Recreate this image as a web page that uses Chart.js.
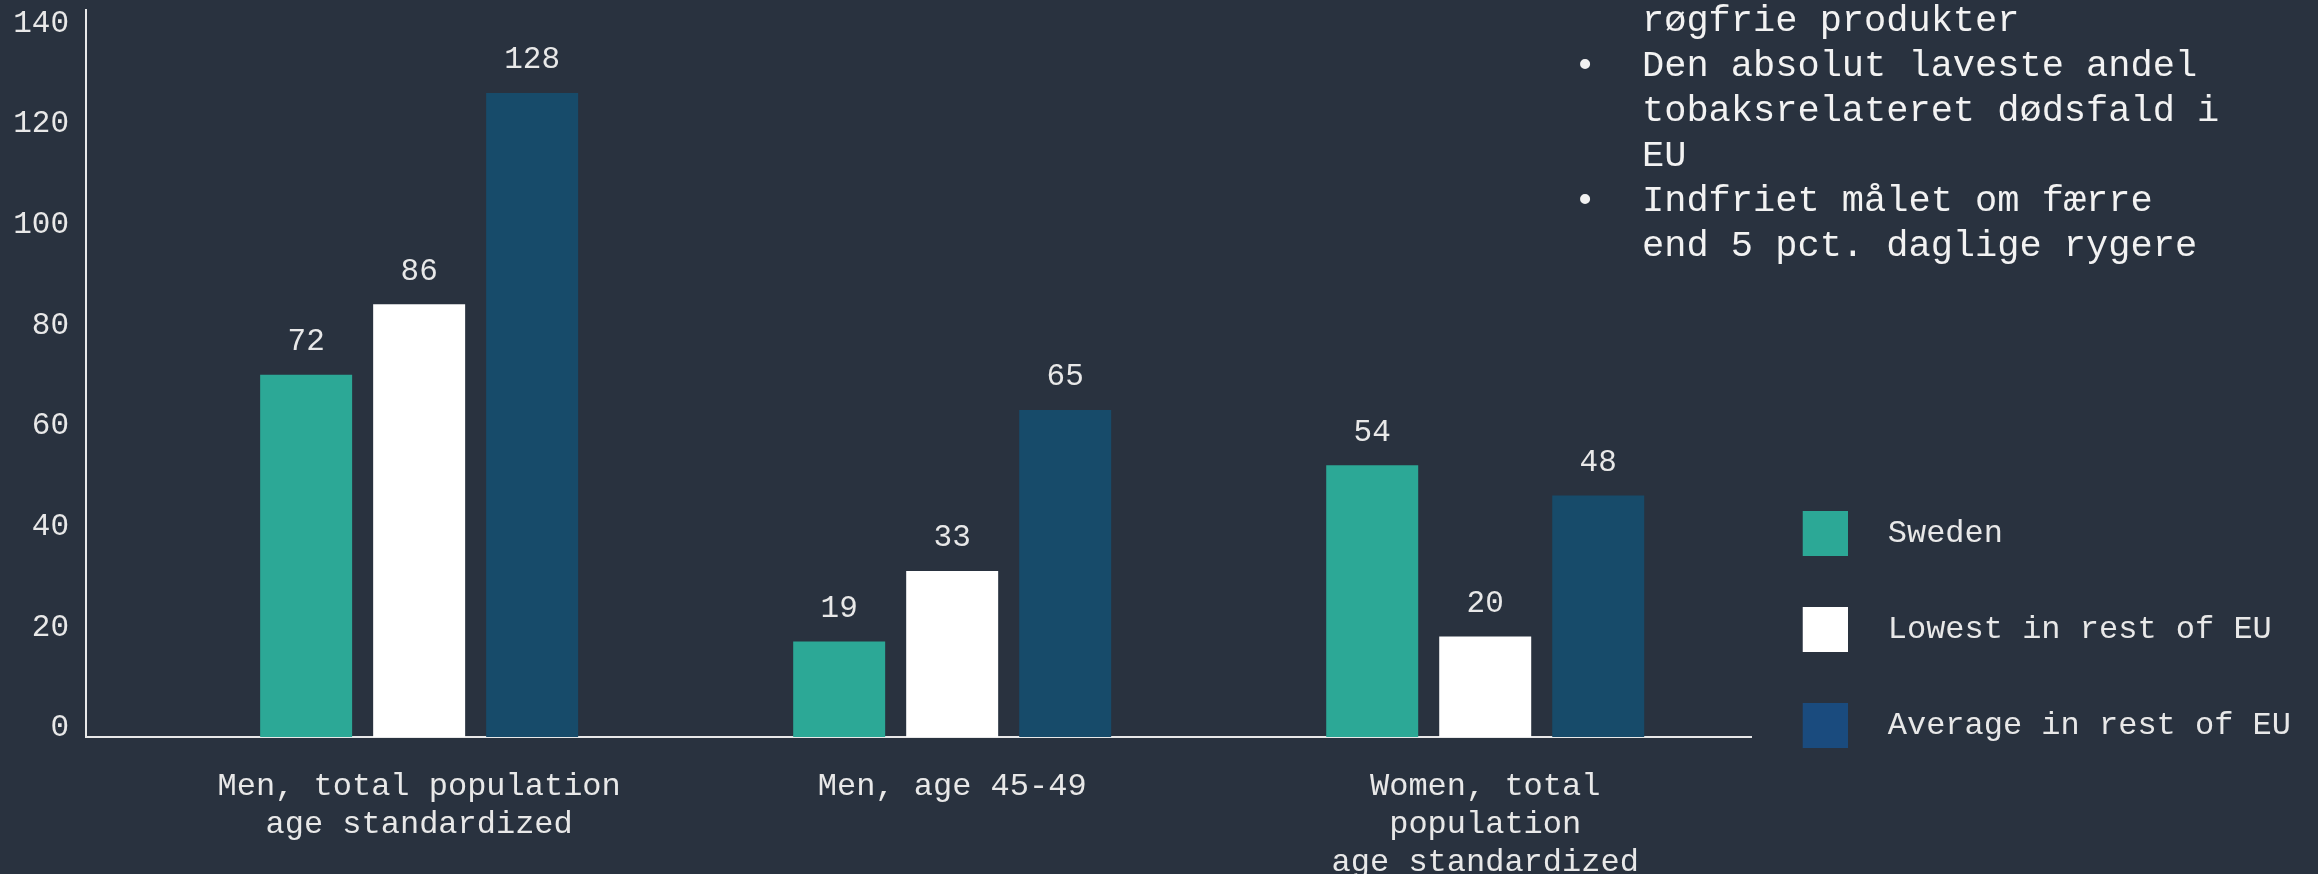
<!DOCTYPE html>
<html><head><meta charset="utf-8">
<script src="https://cdn.jsdelivr.net/npm/chart.js@4"></script>
<style>
html,body{margin:0;padding:0;background:#29323f;overflow:hidden;}
#wrap{position:relative;width:2318px;height:874px;}
#note{position:absolute;left:1574px;top:-1px;font-family:'Liberation Mono','DejaVu Sans Mono',monospace;font-size:37px;line-height:45px;color:#f2f2f2;white-space:pre;}
.li{display:flex;}
.b{width:68px;flex:none;}
</style></head><body>
<div id="wrap"><canvas id="c" width="2318" height="874"></canvas>
<div id="note"><div class="li"><span class="b"></span><span>røgfrie produkter</span></div><div class="li"><span class="b">•</span><span>Den absolut laveste andel
tobaksrelateret dødsfald i
EU</span></div><div class="li"><span class="b">•</span><span>Indfriet målet om færre
end 5 pct. daglige rygere</span></div></div>
</div>
<script>
const categories = [['Men, total population', 'age standardized'], ['Men, age 45-49'], ['Women, total', 'population', 'age standardized']];
const seriesNames = ['Sweden', 'Lowest in rest of EU', 'Average in rest of EU'];
const sweden = [72, 19, 54];
const lowestEU = [86, 33, 20];
const averageEU = [128, 65, 48];
const yTicks = [0, 20, 40, 60, 80, 100, 120, 140];

const fontFam = "'Liberation Mono', 'DejaVu Sans Mono', monospace";
const textColor = '#e8e8e8';
const axisColor = '#e8e8e8';
const barColors = ['#2ca896', '#ffffff', '#174b6a'];
const legendColors = ['#2ca896', '#ffffff', '#1a4b7e'];
const seriesValues = [sweden, lowestEU, averageEU];

const canvas = document.getElementById('c');
const ctx0 = canvas.getContext('2d');
// legend swatch: 45px square followed by a transparent gap inside a 69px legend box
const LEG_BOX_LEFT = 1803, LEG_SWATCH = 45, LEG_BOX = 69;
function swatch(color) {
  const g = ctx0.createLinearGradient(LEG_BOX_LEFT, 0, LEG_BOX_LEFT + LEG_BOX, 0);
  const f = LEG_SWATCH / LEG_BOX;
  g.addColorStop(0, color);
  g.addColorStop(f, color);
  g.addColorStop(f, 'rgba(0,0,0,0)');
  g.addColorStop(1, 'rgba(0,0,0,0)');
  return g;
}

const valueLabels = {
  id: 'valueLabels',
  afterDatasetsDraw(chart) {
    const ctx = chart.ctx;
    ctx.save();
    ctx.font = '31px ' + fontFam;
    ctx.fillStyle = textColor;
    ctx.textAlign = 'center';
    ctx.textBaseline = 'middle';
    chart.data.datasets.forEach((ds, i) => {
      const meta = chart.getDatasetMeta(i);
      meta.data.forEach((bar, j) => {
        ctx.fillText(String(ds.data[j].y), bar.x, bar.y - 33);
      });
    });
    ctx.restore();
  }
};

new Chart(canvas, {
  type: 'bar',
  data: {
    datasets: seriesNames.map((name, i) => ({
      label: name,
      data: seriesValues[i].map((v, k) => ({x: k, y: v})),
      backgroundColor: barColors[i],
      borderWidth: 0
    }))
  },
  options: {
    responsive: false,
    animation: false,
    devicePixelRatio: 1,
    layout: {padding: {top: 10, right: 17, left: 0, bottom: 0}},
    datasets: {bar: {categoryPercentage: 0.636, barPercentage: 0.814}},
    scales: {
      x: {
        type: 'linear', min: -0.625, max: 2.5, offset: false,
        grid: {display: false, drawTicks: false},
        border: {display: true, color: axisColor, width: 2},
        afterBuildTicks: s => { s.ticks = categories.map((c, i) => ({value: i})); },
        afterFit: s => { s.height = 137; s.paddingLeft = 0; s.paddingRight = 0; },
        ticks: {
          color: textColor, font: {family: fontFam, size: 32, lineHeight: '38px'},
          padding: 31, maxRotation: 0, minRotation: 0, autoSkip: false,
          callback: v => categories[v]
        }
      },
      y: {
        min: 0, max: 144.5,
        grid: {display: false, drawTicks: false},
        border: {display: true, color: axisColor, width: 2},
        afterBuildTicks: s => { s.ticks = yTicks.map(v => ({value: v})); },
        afterFit: s => { s.width = 86; s.paddingTop = 0; s.paddingBottom = 0; },
        ticks: {
          color: textColor, font: {family: fontFam, size: 31, lineHeight: '18px'},
          padding: 17,
          callback: v => [String(v), '']
        }
      }
    },
    plugins: {
      legend: {
        position: 'right', align: 'start',
        title: {display: true, text: ' ', font: {size: 12, lineHeight: 1.2}, padding: {top: 435.6, bottom: 0}},
        labels: {
          boxWidth: LEG_BOX, boxHeight: 45, padding: 51, color: textColor,
          font: {family: fontFam, size: 32},
          generateLabels: () => seriesNames.map((n, i) => ({
            text: n, fillStyle: swatch(legendColors[i]), strokeStyle: 'rgba(0,0,0,0)',
            lineWidth: 0, hidden: false, datasetIndex: i, fontColor: textColor
          }))
        }
      },
      tooltip: {enabled: false}
    }
  },
  plugins: [valueLabels]
});
</script>
</body></html>
